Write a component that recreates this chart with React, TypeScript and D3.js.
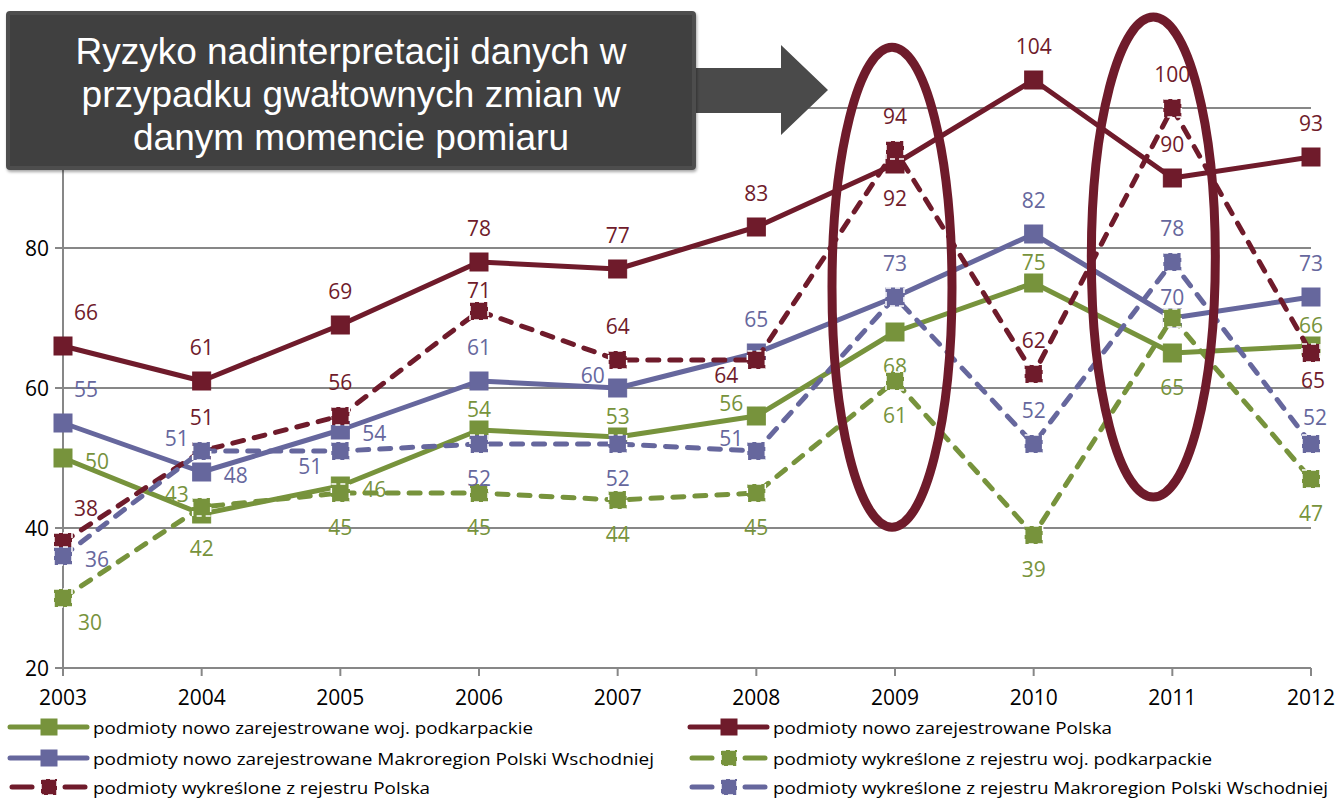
import React from 'react';
import * as d3 from 'd3';

const years = ['2003', '2004', '2005', '2006', '2007', '2008', '2009', '2010', '2011', '2012'];
const nowoPodkarpackie = [50, 42, 46, 54, 53, 56, 68, 75, 65, 66];
const nowoPolska = [66, 61, 69, 78, 77, 83, 92, 104, 90, 93];
const nowoMakroregion = [55, 48, 54, 61, 60, 65, 73, 82, 70, 73];
const wykrPodkarpackie = [30, 43, 45, 45, 44, 45, 61, 39, 70, 47];
const wykrPolska = [38, 51, 56, 71, 64, 64, 94, 62, 100, 65];
const wykrMakroregion = [36, 51, 51, 52, 52, 51, 73, 52, 78, 52];
const yTicks = [20, 40, 60, 80, 100];

const seriesNames = [
  'podmioty nowo zarejestrowane woj. podkarpackie',
  'podmioty nowo zarejestrowane Polska',
  'podmioty nowo zarejestrowane Makroregion  Polski Wschodniej',
  'podmioty wykreślone z rejestru woj. podkarpackie',
  'podmioty wykreślone z rejestru Polska',
  'podmioty wykreślone z rejestru Makroregion  Polski Wschodniej',
];
const seriesValues = [nowoPodkarpackie, nowoPolska, nowoMakroregion, wykrPodkarpackie, wykrPolska, wykrMakroregion];

const boxLines = ['Ryzyko nadinterpretacji danych w', 'przypadku gwałtownych zmian w', 'danym momencie pomiaru'];

// label placement codes (style)
const labelPlace = [
  ['r', 'b', 'r', 'A', 'A', 'al', 'b', 'A', 'b', 'A'],
  ['ar', 'a', 'a', 'a', 'a', 'a', 'b', 'a', 'a', 'a'],
  ['ar', 'r', 'r', 'a', 'al', 'a', 'a', 'a', 'A', 'a'],
  ['br', 'al', 'b', 'b', 'b', 'b', 'b', 'b', 'n', 'b'],
  ['ar', 'a', 'a', 'A', 'a', 'bl', 'a', 'a', 'a', 'B'],
  ['r', 'al', 'bl', 'b', 'b', 'al', 'n', 'a', 'a', 'Am'],
];
const placeOffset: Record<string, [number, number]> = {
  a: [0, -34], A: [0, -21], b: [0, 34], r: [34, 3], l: [-34, 0],
  ar: [23, -34], br: [27, 24], al: [-25, -13], bl: [-30, 15],
  B: [2, 27], Am: [4, -27],
};

const COL_GREEN = '#77933c';
const COL_MAROON = '#6f1b2b';
const COL_BLUE = '#66679d';
const seriesColors = [COL_GREEN, COL_MAROON, COL_BLUE, COL_GREEN, COL_MAROON, COL_BLUE];
const seriesDashed = [false, false, false, true, true, true];

const W = 1339;
const H = 798;
const FONT = '"Open Sans", "Segoe UI", sans-serif';

export default function App() {
  const x = d3.scalePoint<string>().domain(years).range([63, 1311]);
  const y = d3.scaleLinear().domain([20, 100]).range([668, 108]);
  const line = d3.line<number>().x((_, i) => x(years[i]) as number).y((d) => y(d));
  const ms = 18;

  const legendCols = [10, 690];
  const legendRows = [727, 758, 787];
  const legendTextLen = [440, 339, 561, 439, 337, 555];

  return (
    <svg width={W} height={H} style={{ position: 'absolute', left: 0, top: 0, background: '#fff' }}>
      <defs>
        <filter id="sh" x="-5%" y="-5%" width="110%" height="120%">
          <feDropShadow dx="1" dy="2" stdDeviation="1.5" floodColor="#000" floodOpacity="0.35" />
        </filter>
      </defs>
      {/* gridlines */}
      {yTicks.filter((t) => t > 20).map((t) => (
        <line key={t} x1={63} x2={1311} y1={y(t)} y2={y(t)} stroke="#878787" strokeWidth={2} />
      ))}
      {/* axes */}
      <line x1={63} x2={63} y1={y(100)} y2={y(20)} stroke="#878787" strokeWidth={2} />
      <line x1={63} x2={1311} y1={y(20)} y2={y(20)} stroke="#878787" strokeWidth={2} />
      {yTicks.map((t) => (
        <g key={t}>
          <line x1={55} x2={63} y1={y(t)} y2={y(t)} stroke="#878787" strokeWidth={2} />
          <text x={49} y={y(t)} textAnchor="end" dominantBaseline="central" fontFamily={FONT} fontSize={21} fill="#000">
            {t}
          </text>
        </g>
      ))}
      {years.map((yr) => (
        <g key={yr}>
          <line x1={x(yr)} x2={x(yr)} y1={y(20)} y2={y(20) + 8} stroke="#878787" strokeWidth={2} />
          <text x={x(yr)} y={697} textAnchor="middle" dominantBaseline="central" fontFamily={FONT} fontSize={21} fill="#000">
            {yr}
          </text>
        </g>
      ))}
      {/* series */}
      {seriesValues.map((vals, si) => {
        const c = seriesColors[si];
        const dashed = seriesDashed[si];
        return (
          <g key={si}>
            <path
              d={line(vals) || ''}
              fill="none"
              stroke={c}
              strokeWidth={5}
              strokeDasharray={dashed ? '11 11' : undefined}
              strokeLinecap={dashed ? 'round' : 'butt'}
              strokeLinejoin="round"
            />
            {vals.map((v, i) => (
              <rect
                key={i}
                x={(x(years[i]) as number) - ms / 2}
                y={y(v) - ms / 2}
                width={ms}
                height={ms}
                fill={c}
                stroke={dashed ? '#ffffff' : c}
                strokeWidth={dashed ? 1.5 : 1}
                strokeDasharray={dashed ? '5 4' : undefined}
              />
            ))}
            {vals.map((v, i) => {
              const p = labelPlace[si][i];
              if (p === 'n') return null;
              const [dx, dy] = placeOffset[p];
              return (
                <text
                  key={'l' + i}
                  x={(x(years[i]) as number) + dx}
                  y={y(v) + dy}
                  textAnchor="middle"
                  dominantBaseline="central"
                  fontFamily={FONT}
                  fontSize={21}
                  fill={c}
                >
                  {v}
                </text>
              );
            })}
          </g>
        );
      })}
      {/* ellipses */}
      <ellipse cx={(x('2009') as number) - 3} cy={y(74.4)} rx={60} ry={240} fill="none" stroke={COL_MAROON} strokeWidth={9} />
      <ellipse cx={(x('2011') as number) - 19} cy={y(78.7)} rx={62} ry={240} fill="none" stroke={COL_MAROON} strokeWidth={9} />
      {/* arrow */}
      <path d="M690,68 L781,68 L781,45 L828,90 L781,135 L781,113 L690,113 Z" fill="#4a4a4a" />
      {/* box */}
      <rect x={8} y={13} width={686} height={155} rx={2} fill="#404040" stroke="#4e4e4e" strokeWidth={4} filter="url(#sh)" />
      {boxLines.map((t, i) => (
        <text
          key={i}
          x={351}
          y={64 + i * 43}
          textAnchor="middle"
          fontFamily='"Liberation Sans", Arial, sans-serif'
          fontSize={37}
          fill="#ffffff"
        >
          {t}
        </text>
      ))}
      {/* legend */}
      {seriesNames.map((name, si) => {
        const col = si % 2;
        const row = Math.floor(si / 2);
        const lx = legendCols[col];
        const ly = legendRows[row];
        const c = seriesColors[si];
        const dashed = seriesDashed[si];
        return (
          <g key={name}>
            {dashed ? (
              <g>
                <line x1={lx + 2} x2={lx + 22} y1={ly} y2={ly} stroke={c} strokeWidth={5} strokeLinecap="round" />
                <line x1={lx + 55} x2={lx + 75} y1={ly} y2={ly} stroke={c} strokeWidth={5} strokeLinecap="round" />
              </g>
            ) : (
              <line x1={lx} x2={lx + 77} y1={ly} y2={ly} stroke={c} strokeWidth={5} strokeLinecap="round" />
            )}
            <rect x={lx + 39 - 8} y={ly - 8} width={16} height={16} fill={c}
              stroke={dashed ? '#fff' : c} strokeWidth={dashed ? 1.5 : 1} strokeDasharray={dashed ? '5 4' : undefined} />
            <text
              x={lx + 83}
              y={ly}
              dominantBaseline="central"
              fontFamily={FONT}
              fontSize={17}
              fill="#000"
              textLength={legendTextLen[si]}
              lengthAdjust="spacingAndGlyphs"
            >
              {name}
            </text>
          </g>
        );
      })}
    </svg>
  );
}
